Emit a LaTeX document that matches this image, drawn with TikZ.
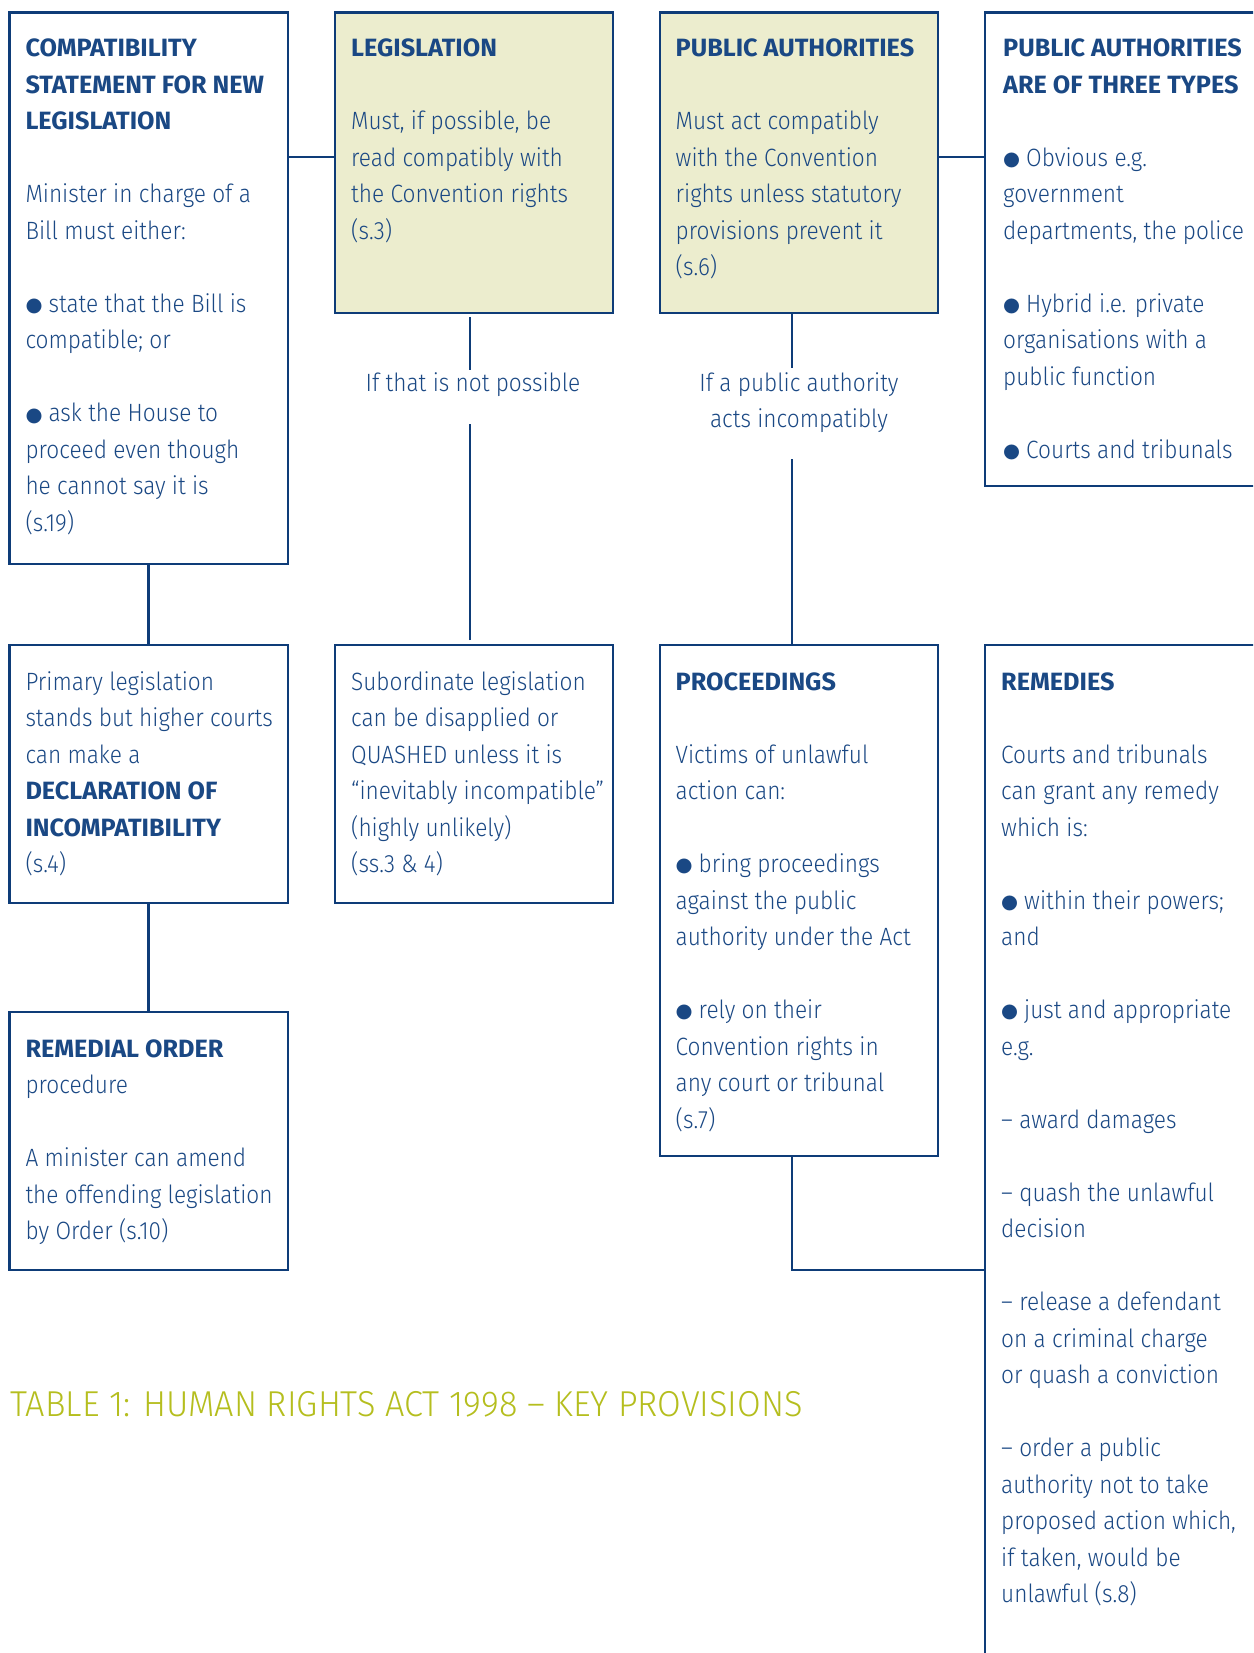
\documentclass[tikz,border=0pt]{standalone}
\usepackage{fontspec}
\setmainfont{Fira Sans}[UprightFont={* Light},FakeStretch=0.905,BoldFont={* Bold},BoldFeatures={FakeStretch=1.01}]
\newfontfamily\titlefont{Fira Sans}[UprightFont={* Light},FakeStretch=0.952]
\newfontfamily\symfont{DejaVu Sans}
\usetikzlibrary{calc}
\definecolor{navy}{RGB}{14,60,120}
\definecolor{txtblue}{RGB}{26,72,132}
\definecolor{olivefill}{RGB}{236,237,206}
\definecolor{olivetitle}{RGB}{181,190,30}
\newcommand\bul{\raisebox{0.8pt}{\symfont\fontsize{19.5}{19.5}\selectfont ●}\hspace{6pt}}
\begin{document}
\begin{tikzpicture}[x=1pt,y=-1pt,
  box/.style={draw=navy,line width=2.8pt,rectangle,inner sep=0pt,outer sep=0pt,anchor=north west},
  greenbox/.style={box,fill=olivefill},
  txt/.style={anchor=north west,inner sep=0pt,align=left,text=txtblue,font=\fontsize{25}{36.5}\selectfont},
  lbl/.style={anchor=north,inner sep=0pt,align=center,text=txtblue,font=\fontsize{25}{36.5}\selectfont},
  conn/.style={draw=navy,line width=2.8pt}]
\useasboundingbox (0,0) rectangle (1253,1653);
\clip (0,0) rectangle (1253,1653);
\fill[white] (0,0) rectangle (1253,1653);
% boxes
\node[box,minimum width=278.5pt,minimum height=551.5pt] (b1) at (9.5,12.5) {};
\node[greenbox,minimum width=278pt,minimum height=300.5pt] (b2) at (335,12.5) {};
\node[greenbox,minimum width=278pt,minimum height=300.5pt] (b3) at (660,12.5) {};
\node[box,minimum width=300pt,minimum height=473.5pt] (b4) at (985,12.5) {};
\node[box,minimum width=278.5pt,minimum height=258pt] (b5) at (9.5,645) {};
\node[box,minimum width=278pt,minimum height=258pt] (b6) at (335,645) {};
\node[box,minimum width=278pt,minimum height=511pt] (b7) at (660,645) {};
\node[box,minimum width=300pt,minimum height=1100pt] (b8) at (985,645) {};
\node[box,minimum width=278.5pt,minimum height=258pt] (b9) at (9.5,1012) {};
% texts
\node[txt] (t1) at (25.3,31.15) {\strut\textbf{COMPATIBILITY}\\ \textbf{STATEMENT FOR NEW}\\ \textbf{LEGISLATION}\\[36.5pt]
Minister in charge of a\\ Bill must either:\\[36.5pt]
\bul state that the Bill is\\ compatible; or\\[36.5pt]
\bul ask the House to\\ proceed even though\\ he cannot say it is\\ (s.19)};
\node[txt] (t2) at (351,31.15) {\strut\textbf{LEGISLATION}\\[36.5pt]
Must, if possible, be\\ read compatibly with\\ the Convention rights\\ (s.3)};
\node[txt] (t3) at (675.5,31.15) {\strut\textbf{PUBLIC AUTHORITIES}\\[36.5pt]
Must act compatibly\\ with the Convention\\ rights unless statutory\\ provisions prevent it\\ (s.6)};
\node[txt] (t4) at (1003,31.15) {\strut\textbf{PUBLIC AUTHORITIES}\\ \textbf{ARE OF THREE TYPES}\\[36.5pt]
\bul Obvious e.g.\\ government\\ departments, the police\\[36.5pt]
\bul Hybrid i.e. private\\ organisations with a\\ public function\\[36.5pt]
\bul Courts and tribunals};
\node[txt] (t5) at (25.3,664.45) {\strut Primary legislation\\ stands but higher courts\\ can make a\\ \textbf{DECLARATION OF}\\ \textbf{INCOMPATIBILITY}\\ (s.4)};
\node[txt] (t6) at (351,664.45) {\strut Subordinate legislation\\ can be disapplied or\\ QUASHED unless it is\\ “inevitably incompatible”\\ (highly unlikely)\\ (ss.3 \& 4)};
\node[txt] (t7) at (675.5,664.45) {\strut\textbf{PROCEEDINGS}\\[36.5pt]
Victims of unlawful\\ action can:\\[36.5pt]
\bul bring proceedings\\ against the public\\ authority under the Act\\[36.5pt]
\bul rely on their\\ Convention rights in\\ any court or tribunal\\ (s.7)};
\node[txt] (t8) at (1001,664.45) {\strut\textbf{REMEDIES}\\[36.5pt]
Courts and tribunals\\ can grant any remedy\\ which is:\\[36.5pt]
\bul within their powers;\\ and\\[36.5pt]
\bul just and appropriate\\ e.g.\\[36.5pt]
– award damages\\[36.5pt]
– quash the unlawful\\ decision\\[36.5pt]
– release a defendant\\ on a criminal charge\\ or quash a conviction\\[36.5pt]
– order a public\\ authority not to take\\ proposed action which,\\ if taken, would be\\ unlawful (s.8)};
\node[txt] (t9) at (25.3,1031.45) {\strut\textbf{REMEDIAL ORDER}\\ procedure\\[36.5pt]
A minister can amend\\ the offending legislation\\ by Order (s.10)};
% labels
\node[lbl] (l1) at (473,365.45) {\strut If that is not possible};
\node[lbl] (l2) at (799,365.45) {\strut If a public authority\\ acts incompatibly};
% title
\node[anchor=base west,inner sep=0pt,text=olivetitle,font=\titlefont\fontsize{36}{40}\selectfont] (title) at (10.5,1416.7) {TABLE 1: HUMAN RIGHTS ACT 1998 – KEY PROVISIONS};
% connectors
\coordinate (j1) at (0,157);
\coordinate (j2) at (0,1270);
\draw[conn] (b1.east |- j1) -- (b2.west |- j1);
\draw[conn] (b3.east |- j1) -- (b4.west |- j1);
\draw[conn] (b1.south) -- (b5.north);
\draw[conn] (b5.south) -- (b9.north);
\draw[conn] ($(b2.south)+(-4,4)$) -- ++(0,53);
\draw[conn] ($(b6.north)+(-4,-5)$) -- ++(0,-216);
\draw[conn] ($(b3.south)+(-7,0)$) -- ++(0,55);
\draw[conn] ($(b7.north)+(-7,0)$) -- ++(0,-186);
\draw[conn] ($(b7.south)+(-7,0)$) |- (b8.west |- j2);
\end{tikzpicture}
\end{document}
